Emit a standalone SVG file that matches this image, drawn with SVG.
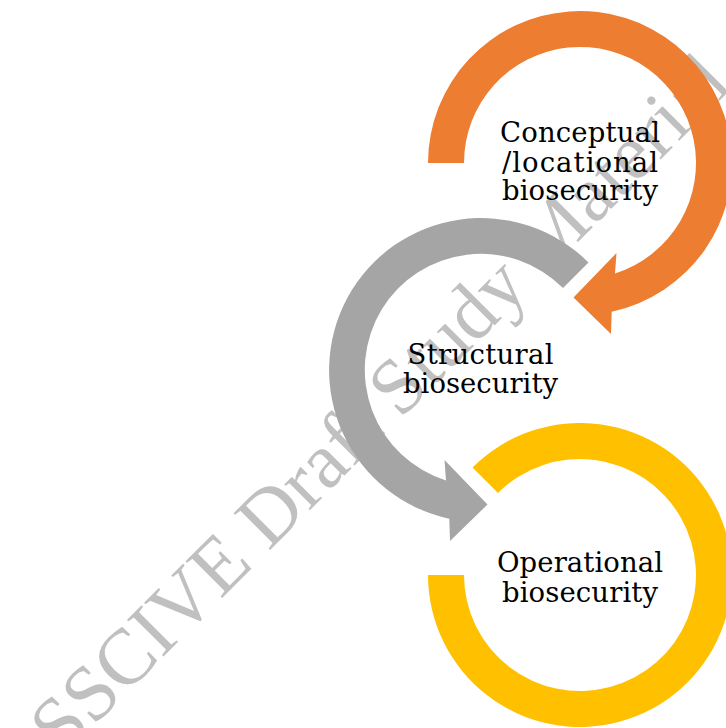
<svg xmlns="http://www.w3.org/2000/svg" width="726" height="728" viewBox="0 0 726 728">
  <style>
    .wm { font-family: "Liberation Serif", "Times New Roman", serif; font-size: 79px; fill: #c0c0c0; }
    .lbl { font-family: "DejaVu Serif", "Liberation Serif", serif; font-size: 27.5px; fill: #000000; text-anchor: middle; }
    .orange { fill: #ED7D31; }
    .gray { fill: #A5A5A5; }
    .yellow { fill: #FFC000; }
  </style>
  <rect x="0" y="0" width="726" height="728" fill="#ffffff"/>
  <g id="watermark">
    <text class="wm" transform="translate(31,789) rotate(-45)" x="0" y="0">PSSCIVE Draft Study Material</text>
  </g>
  <g id="connectors"></g>
  <g id="node-conceptual">
    <path class="orange" d="M 428,163 A 152 152 0 1 1 611.7,311.7 L 611,334 L 573.5,297.5 L 616.5,253 L 615,273.5 A 116 116 0 1 0 464,163 Z"/>
    <text class="lbl" x="580" y="141.7" textLength="160" lengthAdjust="spacing">Conceptual</text>
    <text class="lbl" x="580" y="171.7" textLength="156" lengthAdjust="spacing">/locational</text>
    <text class="lbl" x="580" y="200" textLength="156" lengthAdjust="spacing">biosecurity</text>
  </g>
  <g id="node-structural">
    <path class="gray" d="M 588.5,262.5 A 152 152 0 1 0 449.3,518.7 L 450,541 L 487.5,504.5 L 444.5,460 L 446,480.5 A 116 116 0 1 1 563,288 Z"/>
    <text class="lbl" x="480.5" y="364" textLength="146" lengthAdjust="spacing">Structural</text>
    <text class="lbl" x="480.5" y="393.3" textLength="155" lengthAdjust="spacing">biosecurity</text>
  </g>
  <g id="node-operational">
    <path class="yellow" d="M 472.5,467.5 A 152 152 0 1 1 428,575 L 464,575 A 116 116 0 1 0 498,493 Z"/>
    <text class="lbl" x="580" y="571.7" textLength="166" lengthAdjust="spacing">Operational</text>
    <text class="lbl" x="580" y="601.7" textLength="156" lengthAdjust="spacing">biosecurity</text>
  </g>
</svg>
